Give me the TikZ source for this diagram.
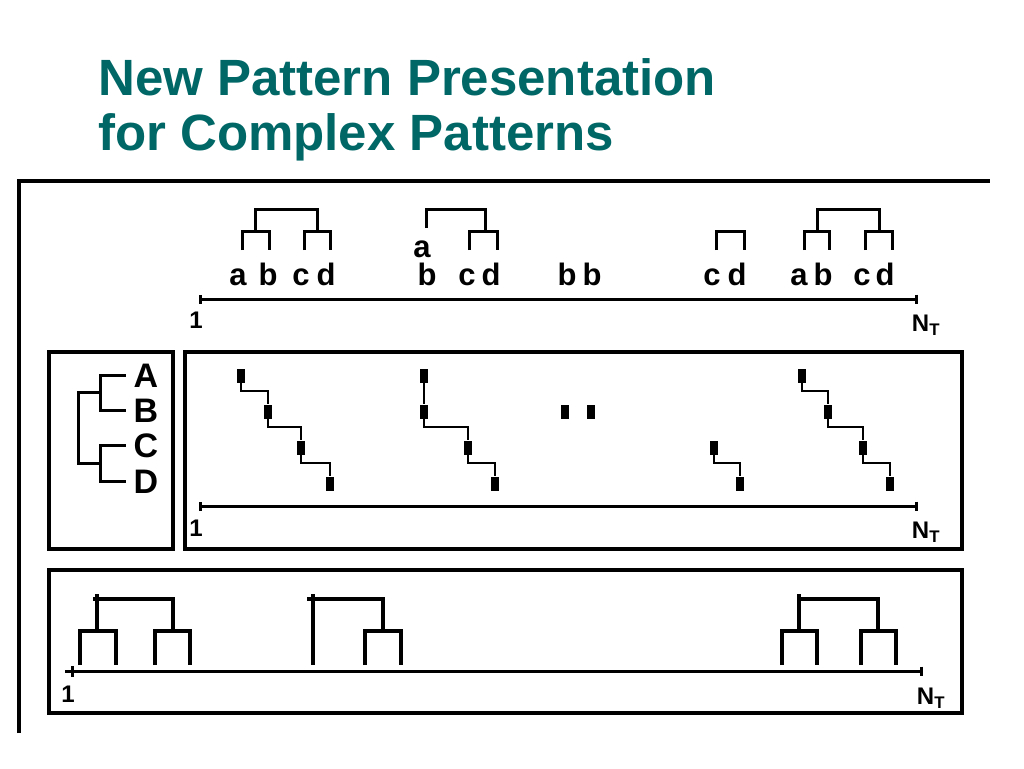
\documentclass[tikz,border=0pt]{standalone}
\usepackage{fontspec}
\setsansfont{Liberation Sans}
\usetikzlibrary{arrows.meta,positioning}
\definecolor{titleteal}{RGB}{0,102,102}

\begin{document}
\begin{tikzpicture}[
  x=1pt, y=-1pt,
  font=\sffamily\bfseries,
  title/.style={anchor=base west, inner sep=0pt, text=titleteal, font=\sffamily\bfseries\fontsize{51}{55}\selectfont},
  letter/.style={anchor=base, inner sep=0pt, font=\sffamily\bfseries\fontsize{31}{31}\selectfont},
  leaf/.style={anchor=base, inner sep=0pt, font=\sffamily\bfseries\fontsize{34}{34}\selectfont},
  endlabel/.style={inner sep=0pt, font=\sffamily\bfseries\fontsize{24}{24}\selectfont},
  frame/.style={line width=4pt},
  panel/.style={draw, line width=4pt},
  axis/.style={line width=3pt, {Bar[width=9pt]}-{Bar[width=9pt]}},
  bracket/.style={line width=3pt},
  fat bracket/.style={line width=4pt},
  hit/.style={fill=black, inner sep=0pt, minimum width=8pt, minimum height=14pt},
  stair/.style={line width=2.5pt}
]
\useasboundingbox (0,0) rectangle (1024,768);

% Title
\node[title] (title1) at (98,95) {New Pattern Presentation};
\node[title] (title2) at (98,150) {for Complex Patterns};
\draw[frame] (19,733) |- (990,181);

% Top: patterns over the sequence
\node[letter] (t1a) at (238,285) {a};
\node[letter] (t1b) at (268,285) {b};
\node[letter] (t1c) at (301,285) {c};
\node[letter] (t1d) at (326,285) {d};
\draw[bracket] (242,250) |- (269,231) -- (269,250);
\draw[bracket] (304,250) |- (330,231) -- (330,250);
\draw[bracket] (255,231) |- (317,209) -- (317,231);

\node[letter] (t2a) at (422,257) {a};
\node[letter] (t2b) at (427,285) {b};
\node[letter] (t2c) at (467,285) {c};
\node[letter] (t2d) at (491,285) {d};
\draw[bracket] (469,250) |- (497,231) -- (497,250);
\draw[bracket] (426,228) |- (485,209) -- (485,231);

\node[letter] (t3b) at (567,285) {b};
\node[letter] (t3bb) at (592,285) {b};

\node[letter] (t4c) at (712,285) {c};
\node[letter] (t4d) at (737,285) {d};
\draw[bracket] (716,250) |- (744,231) -- (744,250);

\node[letter] (t5a) at (799,285) {a};
\node[letter] (t5b) at (823,285) {b};
\node[letter] (t5c) at (862,285) {c};
\node[letter] (t5d) at (885,285) {d};
\draw[bracket] (804,250) |- (829,231) -- (829,250);
\draw[bracket] (865,250) |- (892,231) -- (892,250);
\draw[bracket] (817,231) |- (879,209) -- (879,231);

\coordinate (ax1s) at (199,299);
\coordinate (ax1e) at (918,299);
\draw[axis] (ax1s) -- (ax1e);
\node[endlabel] (one1) at (196,320) {1};
\node[endlabel] (nt1) at (926,325) {N\textsubscript{T}};

% Middle: symbol tree
\draw[panel] (49,352) rectangle (173,549);
\node[leaf] (lA) at (146,387) {A};
\node[leaf] (lB) at (146,422) {B};
\node[leaf] (lC) at (146,457) {C};
\node[leaf] (lD) at (146,493) {D};
\draw[bracket] ([xshift=-8pt]lA.west) -| coordinate[pos=0.75] (jAB) ([xshift=-33pt]lB.west) -- ([xshift=-8pt]lB.west);
\draw[bracket] ([xshift=-8pt]lC.west) -| coordinate[pos=0.75] (jCD) ([xshift=-33pt]lD.west) -- ([xshift=-8pt]lD.west);
\draw[bracket] (jAB) -| ([xshift=-22pt]jCD) -- (jCD);

% Middle: staircases
\draw[panel] (185,352) rectangle (962,549);
\node[hit] (m1a) at (241,375.5) {};
\node[hit] (m1b) at (268,411.5) {};
\node[hit] (m1c) at (301,447.5) {};
\node[hit] (m1d) at (330,483.5) {};
\draw[stair] (m1a.south) -- ++(0,8.5) -| (m1b.north);
\draw[stair] (m1b.south) -- ++(0,8.5) -| (m1c.north);
\draw[stair] (m1c.south) -- ++(0,8.5) -| (m1d.north);

\node[hit] (m2a) at (424,375.5) {};
\node[hit] (m2b) at (424,411.5) {};
\node[hit] (m2c) at (468,447.5) {};
\node[hit] (m2d) at (495,483.5) {};
\draw[stair] (m2a) -- (m2b);
\draw[stair] (m2b.south) -- ++(0,8.5) -| (m2c.north);
\draw[stair] (m2c.south) -- ++(0,8.5) -| (m2d.north);

\node[hit] (m3b) at (565,411.5) {};
\node[hit] (m3bb) at (591,411.5) {};

\node[hit] (m4c) at (714,447.5) {};
\node[hit] (m4d) at (740,483.5) {};
\draw[stair] (m4c.south) -- ++(0,8.5) -| (m4d.north);

\node[hit] (m5a) at (802,375.5) {};
\node[hit] (m5b) at (828,411.5) {};
\node[hit] (m5c) at (863,447.5) {};
\node[hit] (m5d) at (890,483.5) {};
\draw[stair] (m5a.south) -- ++(0,8.5) -| (m5b.north);
\draw[stair] (m5b.south) -- ++(0,8.5) -| (m5c.north);
\draw[stair] (m5c.south) -- ++(0,8.5) -| (m5d.north);

\coordinate (ax2s) at (199,506);
\coordinate (ax2e) at (918,506);
\draw[axis] (ax2s) -- (ax2e);
\node[endlabel] (one2) at (196,528) {1};
\node[endlabel] (nt2) at (926,532) {N\textsubscript{T}};

% Bottom: dendrograms
\draw[panel] (49,570) rectangle (962,713);
\draw[fat bracket] (80,665) |- (116,631) -- (116,665);
\draw[fat bracket] (155,665) |- (190,631) -- (190,665);
\draw[fat bracket] (93,599) -| (173,631);
\draw[fat bracket] (97,594) -- (97,631);

\draw[fat bracket] (365,665) |- (401,631) -- (401,665);
\draw[fat bracket] (307,599) -| (383,631);
\draw[fat bracket] (313,594) -- (313,665);

\draw[fat bracket] (782,665) |- (817,631) -- (817,665);
\draw[fat bracket] (861,665) |- (896,631) -- (896,665);
\draw[fat bracket] (799,599) -| (878,631);
\draw[fat bracket] (799,594) -- (799,631);

\coordinate (ax3s) at (65,671);
\coordinate (ax3e) at (923,671);
\draw[line width=3pt, -{Bar[width=9pt]}] (ax3s) -- (ax3e);
\draw[line width=3pt] (72,666) -- (72,677);
\node[endlabel] (one3) at (68,694) {1};
\node[endlabel] (nt3) at (931,698) {N\textsubscript{T}};

\end{tikzpicture}
\end{document}
